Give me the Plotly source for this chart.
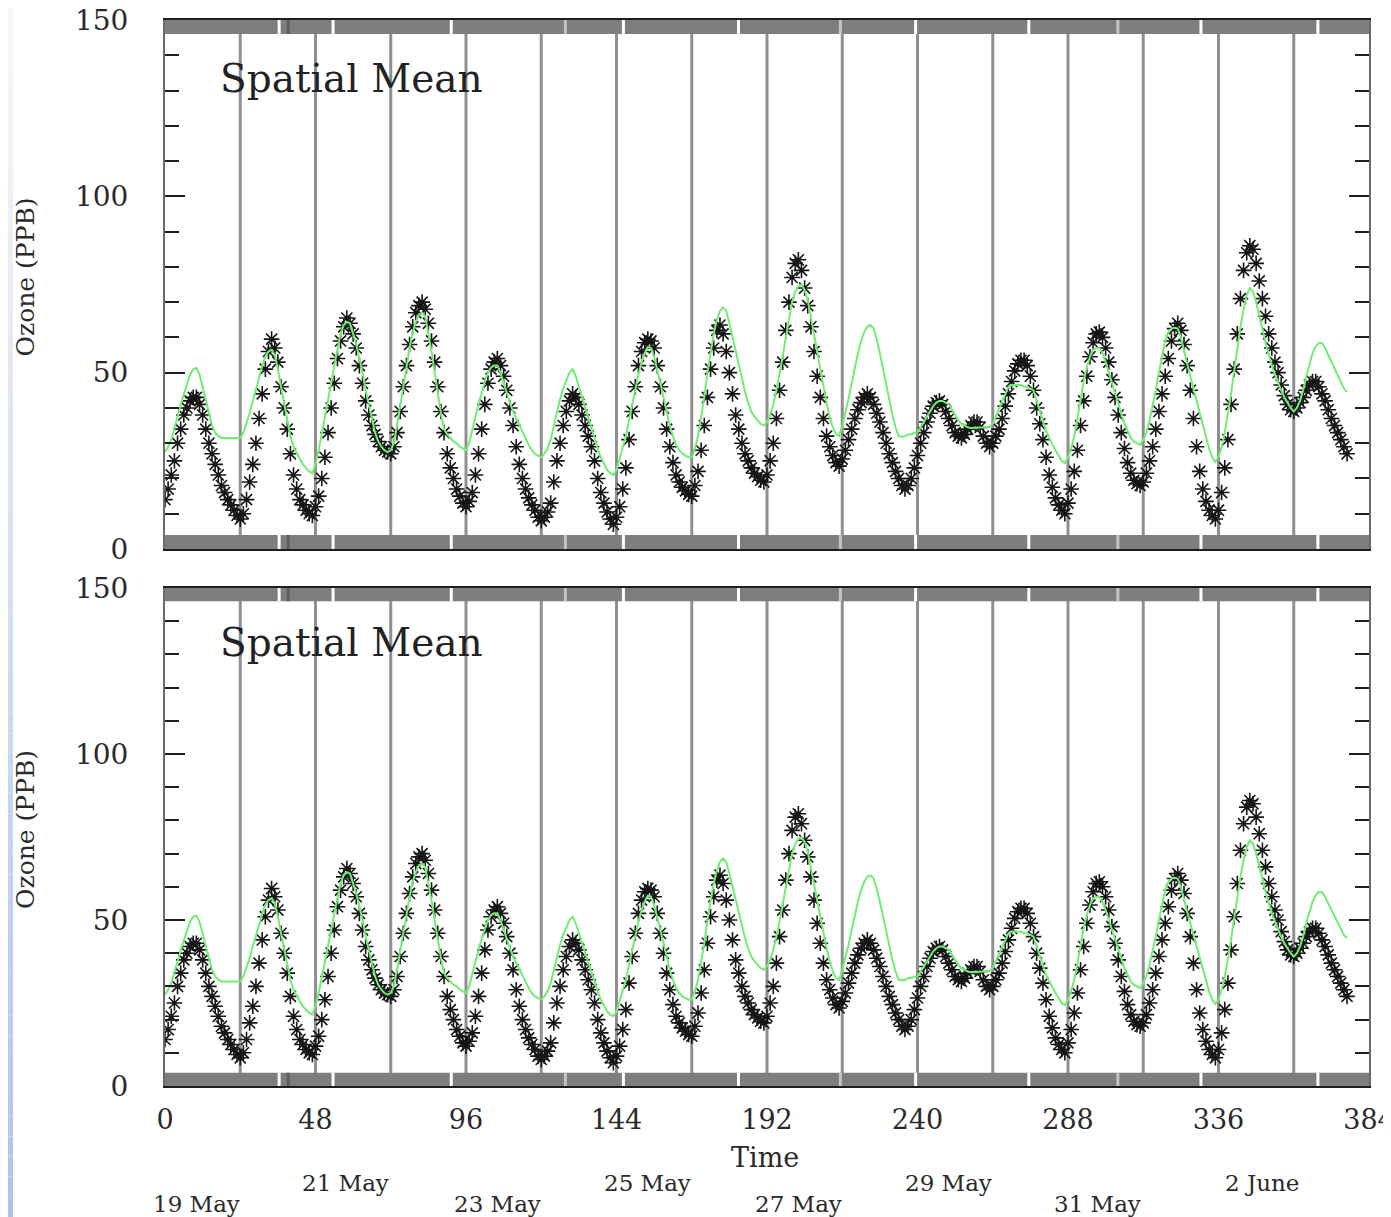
import plotly.graph_objects as go

# ---------------- data ----------------
# hourly observed spatial-mean ozone (ppb), hour 0 .. 377
ozone_obs = [
    14, 17, 21, 25, 30, 34, 38, 40, 42, 43, 43, 41, 38, 34, 30, 27, 24, 21, 18, 16, 14, 12.5, 11, 9.5,
    8.5, 10, 14, 19, 24, 30, 37, 44, 51, 56, 59.5, 57, 53, 46, 40, 34, 27, 21, 17, 14, 12.5, 11, 10, 9.5,
    12, 15, 20, 26, 33, 40, 47, 54, 59, 63, 65.5, 64, 61, 57, 52, 47, 42, 38, 35, 32.5, 30.5, 29, 28, 27.5,
    27, 29, 33, 39, 46, 52, 58, 63, 67, 69, 70, 68, 64, 59, 53, 46, 39, 33, 27, 23, 20, 17, 15, 13,
    12, 13.5, 16, 21, 27, 34, 41, 47, 51, 53, 54, 52, 49, 45, 40, 35, 29, 24, 20, 17, 14.5, 12.5, 11, 9,
    8, 9, 10.5, 13, 19, 25, 30, 35, 39, 42, 44, 43, 41, 38, 35, 32, 29, 25, 20, 16, 13, 10.5, 8.5, 7,
    9, 12, 17, 23, 31, 39, 46, 52, 56, 58.5, 59.5, 59, 57, 52, 46, 40, 34, 29, 24.5, 21, 19, 17.5, 16.5, 15.5,
    15, 18, 22, 28, 35, 43, 51, 57, 62, 63.5, 61, 56, 50, 44, 38, 34, 30, 27, 25, 23, 21.5, 20.5, 19.5, 19,
    21, 25, 30, 37, 45, 53, 62, 70, 77, 81, 82, 79, 74, 69, 63, 56, 49, 43, 37, 32, 29, 26.5, 24.5, 23.5,
    25.5, 28, 31, 34, 37, 39.5, 41.5, 43, 44, 43, 41, 38.5, 36, 33, 30, 27, 24.5, 22, 20, 18, 17, 18, 20, 23,
    26.5, 30, 33, 36, 38.5, 40.5, 41.5, 42, 41, 39, 37, 35, 33, 32, 31.5, 32.5, 34, 35, 36, 36, 34.5, 32, 30, 29,
    30, 32, 34, 37, 40.5, 44, 47.5, 50.5, 52.5, 53.5, 53.5, 52, 49, 45, 40, 35.5, 31, 26, 21, 17.5, 14.5, 12.5, 11, 10,
    13, 17, 22, 28, 35, 42, 49, 54.5, 58.5, 61, 61.5, 60, 57, 53, 48, 43, 38, 33, 28.5, 24.5, 21.5, 19.5, 18.5, 18,
    19, 21.5, 25, 29, 34, 39, 44, 49, 54, 59, 62.5, 64, 62, 58, 52, 45, 37, 29, 22, 17, 13.5, 11, 9.5, 8.5,
    11, 16, 23, 31, 41, 51, 61, 71, 79, 84, 86, 85, 81, 76, 71, 66, 61, 57, 53, 50, 46.5, 43.5, 41, 39.5,
    39, 40, 41.5, 43, 45, 46.5, 47.5, 47.5, 46, 44, 42, 39.5, 37, 35, 33, 31, 29, 27,
]

# hourly modelled spatial-mean ozone (ppb), hour 0 .. 377
ozone_model = [
    27.5, 29, 31, 34, 37.5, 41, 44, 47, 49.5, 51, 51.3, 49.5, 46, 42, 38.5, 35, 33, 32, 31.5, 31.5, 31.5, 31.5, 31.5, 31.5,
    31.5, 33, 35.5, 38.5, 42, 45, 48.5, 52, 54.5, 56, 56.5, 55, 51, 46, 41, 36, 32, 29, 27, 25.5, 24, 23, 22, 21.5,
    24, 28, 32.5, 37.5, 42.5, 47, 52, 57, 61, 63.5, 64.4, 64, 61, 58, 54, 50, 45, 41, 36.5, 33, 30.5, 29, 28, 27.5,
    28, 30, 35, 40.5, 46.5, 52, 57, 61.5, 64.5, 66.5, 67, 66, 61.5, 56, 50, 44, 38.5, 34, 32.5, 31.5, 30.5, 30, 29, 28.5,
    28, 30, 34, 37.5, 41, 44.5, 47.5, 50, 51.5, 52, 52, 50, 47, 44, 41.5, 39, 37, 35, 33, 31, 29.5, 28, 27, 26.5,
    26, 27, 28.5, 31, 35, 39, 42.5, 45.5, 48, 50, 51, 49, 46, 43, 40, 37, 34, 31, 28.5, 26, 24, 22.5, 21.5, 21,
    22.5, 25.5, 28.5, 32, 36.5, 41, 45.5, 49.5, 53, 55.5, 57.3, 57, 54.5, 51, 47, 43, 39, 35, 32, 29.5, 28, 27, 26.5, 26,
    26, 28.5, 32, 37, 43, 50, 56, 61, 65, 67.5, 68.5, 67.5, 64, 60, 56, 52, 48, 44.5, 41.5, 39, 37.5, 36.5, 35.5, 35,
    36, 38, 41, 45, 49.5, 54.5, 60, 65.5, 70, 73, 74.5, 75, 73.5, 70.5, 66, 61, 56, 51, 46, 41.5, 37.5, 34.5, 32.5, 32,
    35, 38.5, 42.5, 47, 51.5, 55.5, 59, 61.5, 63, 63.5, 62.5, 59.5, 55.5, 51, 47, 42.5, 38, 34.5, 32, 31.8, 32, 32.5, 32.5, 33,
    33, 34.5, 36, 37.5, 39, 40.5, 41.5, 42, 42, 41.5, 41, 39.5, 38, 36.5, 35.5, 35, 34.5, 34.3, 34.3, 34.5, 34.5, 34.5, 34.6, 34.6,
    35.5, 37.5, 40, 42, 44, 46, 46.5, 46.5, 46.5, 46.5, 46, 46, 45.5, 45, 42, 39, 36, 33.5, 31.5, 29.5, 28, 26.5, 25, 24.4,
    26, 28.5, 32, 37, 42.5, 47.5, 51.5, 54.5, 56.5, 57, 57, 55.5, 53, 50, 47, 44, 41, 38, 35.5, 33.5, 31.5, 30.5, 30, 29.5,
    31, 33, 36.5, 40.5, 45, 50, 55, 59, 61.5, 62.5, 62.7, 62.5, 60, 56, 52.5, 49, 45.5, 42, 38.5, 35, 31.5, 28.5, 26, 24.7,
    26, 29, 33, 38, 44, 50.5, 57, 63, 68, 72, 74, 73, 70, 66.5, 62.5, 58.5, 55, 52, 49.5, 47, 45, 43, 41.5, 40,
    39, 40, 42, 45, 49, 52.5, 55.5, 57.5, 58.4, 58.4, 57, 55, 53, 51, 49, 47, 45.5, 44.5,
]

hours = list(range(len(ozone_obs)))

x_ticks = [0, 48, 96, 144, 192, 240, 288, 336, 384]
y_ticks = [0, 50, 100, 150]

day_labels = ["19 May", "21 May", "23 May", "25 May", "27 May", "29 May", "31 May", "2 June"]
day_label_hours = [10, 57.5, 106, 154, 202, 250, 297.5, 350]

# marks in the grey bars at top/bottom (hours)
band_gaps_white = [36.4, 53.6, 91.3, 146.2, 182.9, 239.4, 275.5, 330.4, 367.7]
band_gaps_light = [127.7, 215.4, 303.9]
band_marks_dark = [39.3]

panel_title = "Spatial Mean"
y_title = "Ozone (PPB)"
x_title = "Time"

# ---------------- figure ----------------
# the page body has an 8px margin, so the figure is laid out 8px smaller
OFF = 8
W, H = 1391 - OFF, 1217 - OFF
FONT = "DejaVu Serif"


def px(v):  # screen x pixel -> paper fraction
    return (v - OFF) / W


def py(v):  # screen y pixel -> paper fraction (from bottom)
    return 1 - (v - OFF) / H


xdom = [px(165), px(1369)]
panels = [
    dict(xa="x", ya="y", xname="xaxis", yname="yaxis", top=20, bottom=549),
    dict(xa="x2", ya="y2", xname="xaxis2", yname="yaxis2", top=588, bottom=1086),
]

fig = go.Figure()
shapes = []
annotations = []

# gradient strip on the left edge
n_strip = 60
for i in range(n_strip):
    f = i / (n_strip - 1)
    r = int(round(246 + (176 - 246) * f))
    g = int(round(248 + (196 - 248) * f))
    b = int(round(252 + (226 - 252) * f))
    shapes.append(dict(type="rect", xref="paper", yref="paper", x0=0, x1=px(13),
                       y0=1 - (i + 1) / n_strip, y1=1 - i / n_strip,
                       fillcolor=f"rgb({r},{g},{b})", line=dict(width=0), layer="below"))

for k, p in enumerate(panels):
    fig.add_trace(go.Scatter(
        x=hours, y=ozone_obs, mode="markers", xaxis=p["xa"], yaxis=p["ya"],
        marker=dict(symbol="asterisk-open", size=13, color="#151515",
                    line=dict(width=1.6, color="#151515")),
        showlegend=False, hoverinfo="skip"))
    fig.add_trace(go.Scatter(
        x=hours, y=ozone_model, mode="lines", xaxis=p["xa"], yaxis=p["ya"],
        line=dict(color="#72ec72", width=2), showlegend=False, hoverinfo="skip"))

    ydom = [py(p["bottom"]), py(p["top"])]
    is_bottom = (k == 1)
    fig.layout[p["xname"]] = dict(
        domain=xdom, range=[0, 384], anchor=p["ya"], automargin=False,
        showgrid=False, zeroline=False, showline=True, linecolor="#1e1e1e", linewidth=2,
        mirror=True, ticks="", tickvals=x_ticks, showticklabels=is_bottom,
        ticklabeloverflow="allow",
        tickfont=dict(family=FONT, size=27, color="#2a2a2a"), ticklabelstandoff=9,
    )
    fig.layout[p["yname"]] = dict(
        domain=ydom, range=[0, 150], anchor=p["xa"], automargin=False,
        showgrid=False, zeroline=False, showline=True, linecolor="#6a6a6a", linewidth=2,
        mirror="ticks", ticks="inside", ticklen=20, tickwidth=1.5, tickcolor="#1e1e1e",
        tickvals=y_ticks, ticklabeloverflow="allow",
        minor=dict(dtick=10, ticks="inside", ticklen=14, tickwidth=1.5, tickcolor="#1e1e1e"),
        tickfont=dict(family=FONT, size=28, color="#2a2a2a"), ticklabelstandoff=29,
    )

    # day separators
    for hr in range(24, 384, 24):
        shapes.append(dict(type="line", xref=p["xa"], yref=p["ya"], x0=hr, x1=hr, y0=0, y1=150,
                           line=dict(color="#8f8f8f", width=3), layer="below"))
    # grey bars
    for y0, y1 in [(0, 4), (146, 150)]:
        shapes.append(dict(type="rect", xref=p["xa"], yref=p["ya"], x0=0, x1=384, y0=y0, y1=y1,
                           fillcolor="#7e7e7e", line=dict(width=0), layer="above"))
        for g in band_gaps_white:
            shapes.append(dict(type="line", xref=p["xa"], yref=p["ya"], x0=g, x1=g, y0=y0, y1=y1,
                               line=dict(color="#ffffff", width=3), layer="above"))
        for g in band_gaps_light:
            shapes.append(dict(type="line", xref=p["xa"], yref=p["ya"], x0=g, x1=g, y0=y0, y1=y1,
                               line=dict(color="#c4c4c4", width=3), layer="above"))
        for g in band_marks_dark:
            shapes.append(dict(type="line", xref=p["xa"], yref=p["ya"], x0=g, x1=g, y0=y0, y1=y1,
                               line=dict(color="#5e5e5e", width=3), layer="above"))

    # panel title
    annotations.append(dict(text=panel_title, xref=p["xa"], yref=p["ya"], x=17.0, y=133.5,
                            xanchor="left", yanchor="middle", showarrow=False,
                            font=dict(family=FONT, size=39, color="#222222")))
    # y title
    annotations.append(dict(text=y_title, xref="paper", yref="paper", x=px(25),
                            y=py((p["top"] + p["bottom"]) / 2 - 7),
                            xanchor="center", yanchor="middle", textangle=-90, showarrow=False,
                            font=dict(family=FONT, size=25, color="#2a2a2a")))

# x title and date labels (bottom panel)
annotations.append(dict(text=x_title, xref="x2", yref="paper", x=191.5, y=py(1157),
                        xanchor="center", yanchor="middle", showarrow=False,
                        font=dict(family=FONT, size=27, color="#2a2a2a")))
for i, (lab, hr) in enumerate(zip(day_labels, day_label_hours)):
    ypix = 1204 if i % 2 == 0 else 1183
    annotations.append(dict(text=lab, xref="x2", yref="paper", x=hr, y=py(ypix),
                            xanchor="center", yanchor="middle", showarrow=False,
                            font=dict(family=FONT, size=23, color="#2a2a2a")))

fig.update_layout(
    width=W, height=H, margin=dict(l=0, r=0, t=0, b=0, autoexpand=False),
    paper_bgcolor="white", plot_bgcolor="white",
    shapes=shapes, annotations=annotations, showlegend=False,
)

fig.write_html("out.html")
